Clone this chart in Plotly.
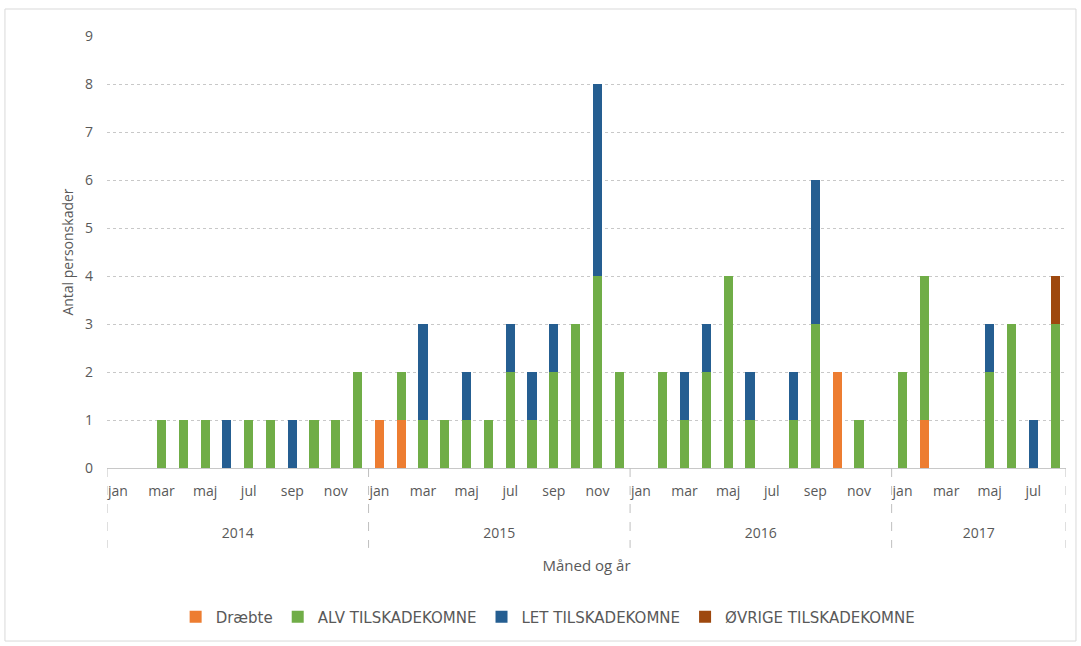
import plotly.graph_objects as go

months = ["jan", "feb", "mar", "apr", "maj", "jun", "jul", "aug", "sep", "okt", "nov", "dec"]
years = ["2014", "2015", "2016", "2017"]
months_per_year = [12, 12, 12, 8]

draebte = [0, 0, 0, 0, 0, 0, 0, 0, 0, 0, 0, 0,
           1, 1, 0, 0, 0, 0, 0, 0, 0, 0, 0, 0,
           0, 0, 0, 0, 0, 0, 0, 0, 0, 2, 0, 0,
           0, 1, 0, 0, 0, 0, 0, 0]
alv = [0, 0, 1, 1, 1, 0, 1, 1, 0, 1, 1, 2,
       0, 1, 1, 1, 1, 1, 2, 1, 2, 3, 4, 2,
       0, 2, 1, 2, 4, 1, 0, 1, 3, 0, 1, 0,
       2, 3, 0, 0, 2, 3, 0, 3]
let = [0, 0, 0, 0, 0, 1, 0, 0, 1, 0, 0, 0,
       0, 0, 2, 0, 1, 0, 1, 1, 1, 0, 4, 0,
       0, 0, 1, 1, 0, 1, 0, 1, 3, 0, 0, 0,
       0, 0, 0, 0, 1, 0, 1, 0]
ovrige = [0, 0, 0, 0, 0, 0, 0, 0, 0, 0, 0, 0,
          0, 0, 0, 0, 0, 0, 0, 0, 0, 0, 0, 0,
          0, 0, 0, 0, 0, 0, 0, 0, 0, 0, 0, 0,
          0, 0, 0, 0, 0, 0, 0, 1]

series = [
    ("Dræbte", draebte, "#ED7D31"),
    ("ALV TILSKADEKOMNE", alv, "#70AD47"),
    ("LET TILSKADEKOMNE", let, "#255E91"),
    ("ØVRIGE TILSKADEKOMNE", ovrige, "#9E480E"),
]

# x positions (month index) and labels
xs = []
month_labels = []
for y, n in zip(years, months_per_year):
    for m in range(n):
        xs.append(len(xs))
        month_labels.append(months[m])
tickvals = [i for i, lab in enumerate(month_labels) if months.index(lab) % 2 == 0]
ticktext = [month_labels[i] for i in tickvals]

bounds = [-0.5]
for n in months_per_year:
    bounds.append(bounds[-1] + n)
year_centers = [(bounds[i] + bounds[i + 1]) / 2 for i in range(len(years))]

GRAY = "#595959"
FONT = "Open Sans"

fig = go.Figure()
for name, vals, col in series:
    fig.add_trace(go.Bar(x=xs, y=vals, name=name, marker_color=col,
                         marker_line_width=0, width=0.42))

# invisible trace on the year axis
fig.add_trace(go.Scatter(x=year_centers, y=[0] * len(years), xaxis="x2",
                         mode="markers", marker_opacity=0, showlegend=False,
                         hoverinfo="skip"))

shapes = []
for b in bounds:
    shapes.append(dict(type="line", xref="x", yref="paper", x0=b, x1=b,
                       y0=0, y1=-0.185, line=dict(color="#bfbfbf", width=1, dash="dash")))
shapes.append(dict(type="rect", xref="paper", yref="paper", x0=-0.1064, x1=1.0104,
                   y0=-0.4005, y1=1.0625, line=dict(color="#d9d9d9", width=1)))

fig.update_layout(
    width=1081, height=646,
    margin=dict(l=107, r=15, t=36, b=178),
    barmode="stack",
    bargap=0.5,
    plot_bgcolor="white", paper_bgcolor="white",
    font=dict(family=FONT, color=GRAY, size=13),
    shapes=shapes,
    xaxis=dict(range=[-0.5, 43.5], tickvals=tickvals, ticktext=ticktext, automargin=False,
               showgrid=False, zeroline=False, ticks="", ticklabelstandoff=10,
               showline=True, linecolor="#c8c8c8", linewidth=1,
               tickfont=dict(size=14, color=GRAY),
               title=dict(text="Måned og år", font=dict(size=15, color=GRAY), standoff=61)),
    xaxis2=dict(range=[-0.5, 43.5], overlaying="x", side="bottom", anchor="y", automargin=False,
                tickvals=year_centers, ticktext=years, showgrid=False, zeroline=False,
                ticks="", ticklabelstandoff=55, showline=False,
                tickfont=dict(size=14, color=GRAY)),
    yaxis=dict(range=[0, 9], dtick=1, showgrid=True, gridcolor="#c8c8c8", griddash="dot",
               gridwidth=1, zeroline=False, ticks="", ticklabelstandoff=13, automargin=False,
               tickfont=dict(size=14, color=GRAY),
               title=dict(text="Antal personskader", font=dict(size=14, color=GRAY), standoff=8)),
    legend=dict(orientation="h", xref="paper", yref="paper", x=0.46, y=-0.345,
                xanchor="center", yanchor="middle", bgcolor="rgba(0,0,0,0)",
                font=dict(size=15, color=GRAY, family="DejaVu Sans"),
                traceorder="normal", itemwidth=30),
    showlegend=True,
)

fig.write_html("out.html", config={"displayModeBar": False},
               post_script="document.body.style.margin='0';document.body.style.overflow='hidden';")
